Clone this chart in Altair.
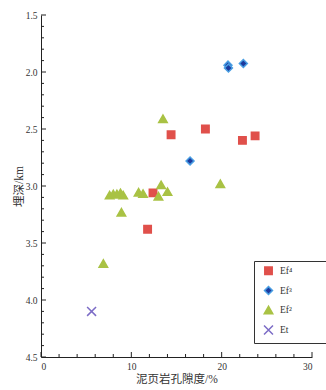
import altair as alt
import pandas as pd

# ---- data ----
series_labels = ["Ef⁴", "Ef³", "Ef²", "Et"]

ef4_x = [14.4, 18.2, 22.3, 23.7, 12.4, 11.8]
ef4_y = [2.55, 2.50, 2.60, 2.56, 3.06, 3.38]

ef3_x = [20.7, 20.75, 22.4, 16.5]
ef3_y = [1.94, 1.965, 1.925, 2.78]

ef2_x = [13.5, 13.3, 14.0, 13.0, 19.85, 10.8, 11.3, 7.6, 8.0, 8.4, 8.8, 9.1, 8.9, 6.9]
ef2_y = [2.41, 2.99, 3.05, 3.09, 2.98, 3.055, 3.067, 3.08, 3.07, 3.07, 3.06, 3.08, 3.23, 3.68]

et_x = [5.6]
et_y = [4.10]

y_major_ticks = [1.5, 2.0, 2.5, 3.0, 3.5, 4.0, 4.5]
y_minor_ticks = [1.6, 1.7, 1.8, 1.9, 2.1, 2.2, 2.3, 2.4, 2.6, 2.7, 2.8, 2.9,
                 3.1, 3.2, 3.3, 3.4, 3.6, 3.7, 3.8, 3.9, 4.1, 4.2, 4.3, 4.4]
x_major_ticks = [0, 10, 20, 30]
x_minor_ticks = [2, 4, 6, 8, 12, 14, 16, 18, 22, 24, 26, 28]

shapes = ["square", "diamond", "triangle-up", "M-1,-1L1,1M1,-1L-1,1"]
fills = ["#E0504B", "#1C3A9E", "#A9C244", "transparent"]
strokes = ["#E0504B", "#4A9FE3", "#A9C244", "#7C6CC6"]
sizes = [55, 80, 115, 75]

rows = []
for lab, xs, ys in zip(series_labels, [ef4_x, ef3_x, ef2_x, et_x], [ef4_y, ef3_y, ef2_y, et_y]):
    for a, b in zip(xs, ys):
        rows.append({"s": lab, "x": a, "y": b})
df = pd.DataFrame(rows)

FONT = "Liberation Serif"
MIXFONT = "Liberation Serif, Noto Sans CJK SC"
W, H = 271, 342

xscale = alt.Scale(domain=[0, 30], nice=False, zero=False)
yscale = alt.Scale(domain=[1.5, 4.5], reverse=True, nice=False, zero=False)

xaxis = alt.Axis(values=x_major_ticks, format="d", title="泥页岩孔隙度/%",
                 ticks=False, labelPadding=4, titlePadding=3)
yaxis = alt.Axis(values=y_major_ticks, format=".1f", title="埋深/km",
                 ticks=False, labelPadding=4, titlePadding=1)

leg = alt.Legend(
    title=None, orient="none", legendX=213, legendY=246,
    strokeColor="#333", fillColor="white", padding=5, rowPadding=5.5,
    symbolOffset=4, labelFont=FONT, labelFontSize=9.5, labelColor="#333",
    labelOffset=6, labelExpr="datum.label + '\\u2003\\u2003\\u2003\\u200b'",
)

points = alt.Chart(df).mark_point(filled=True, opacity=1, strokeWidth=1.5).encode(
    x=alt.X("x:Q", scale=xscale, axis=xaxis),
    y=alt.Y("y:Q", scale=yscale, axis=yaxis),
    shape=alt.Shape("s:N", scale=alt.Scale(domain=series_labels, range=shapes), legend=leg),
    fill=alt.Fill("s:N", scale=alt.Scale(domain=series_labels, range=fills), legend=leg),
    stroke=alt.Stroke("s:N", scale=alt.Scale(domain=series_labels, range=strokes), legend=leg),
    size=alt.Size("s:N", scale=alt.Scale(domain=series_labels, range=sizes), legend=leg),
)

def yticks(vals, length):
    return alt.Chart(pd.DataFrame({"y": vals})).mark_rule(color="#222", strokeWidth=1).encode(
        y=alt.Y("y:Q", scale=yscale, axis=yaxis),
        x=alt.value(0), x2=alt.value(length))

def xticks(vals, length):
    return alt.Chart(pd.DataFrame({"x": vals})).mark_rule(color="#222", strokeWidth=1).encode(
        x=alt.X("x:Q", scale=xscale, axis=xaxis),
        y=alt.value(H), y2=alt.value(H - length))

chart = alt.layer(
    points,
    yticks(y_minor_ticks, 3), yticks(y_major_ticks, 5),
    xticks(x_minor_ticks, 3), xticks(x_major_ticks, 5),
).properties(
    width=W, height=H,
    autosize=alt.AutoSizeParams(type="none"),
    padding={"left": 41, "top": 15, "right": 14, "bottom": 33},
).configure_view(stroke=None).configure_axis(
    domainColor="#222", domainWidth=1, grid=False,
    labelFont=FONT, labelFontSize=9.5, labelColor="#333",
    titleFont=MIXFONT, titleFontSize=11.5, titleFontWeight="normal", titleColor="#333",
)

chart.save("out.html", embed_options={"renderer": "svg", "actions": False})
